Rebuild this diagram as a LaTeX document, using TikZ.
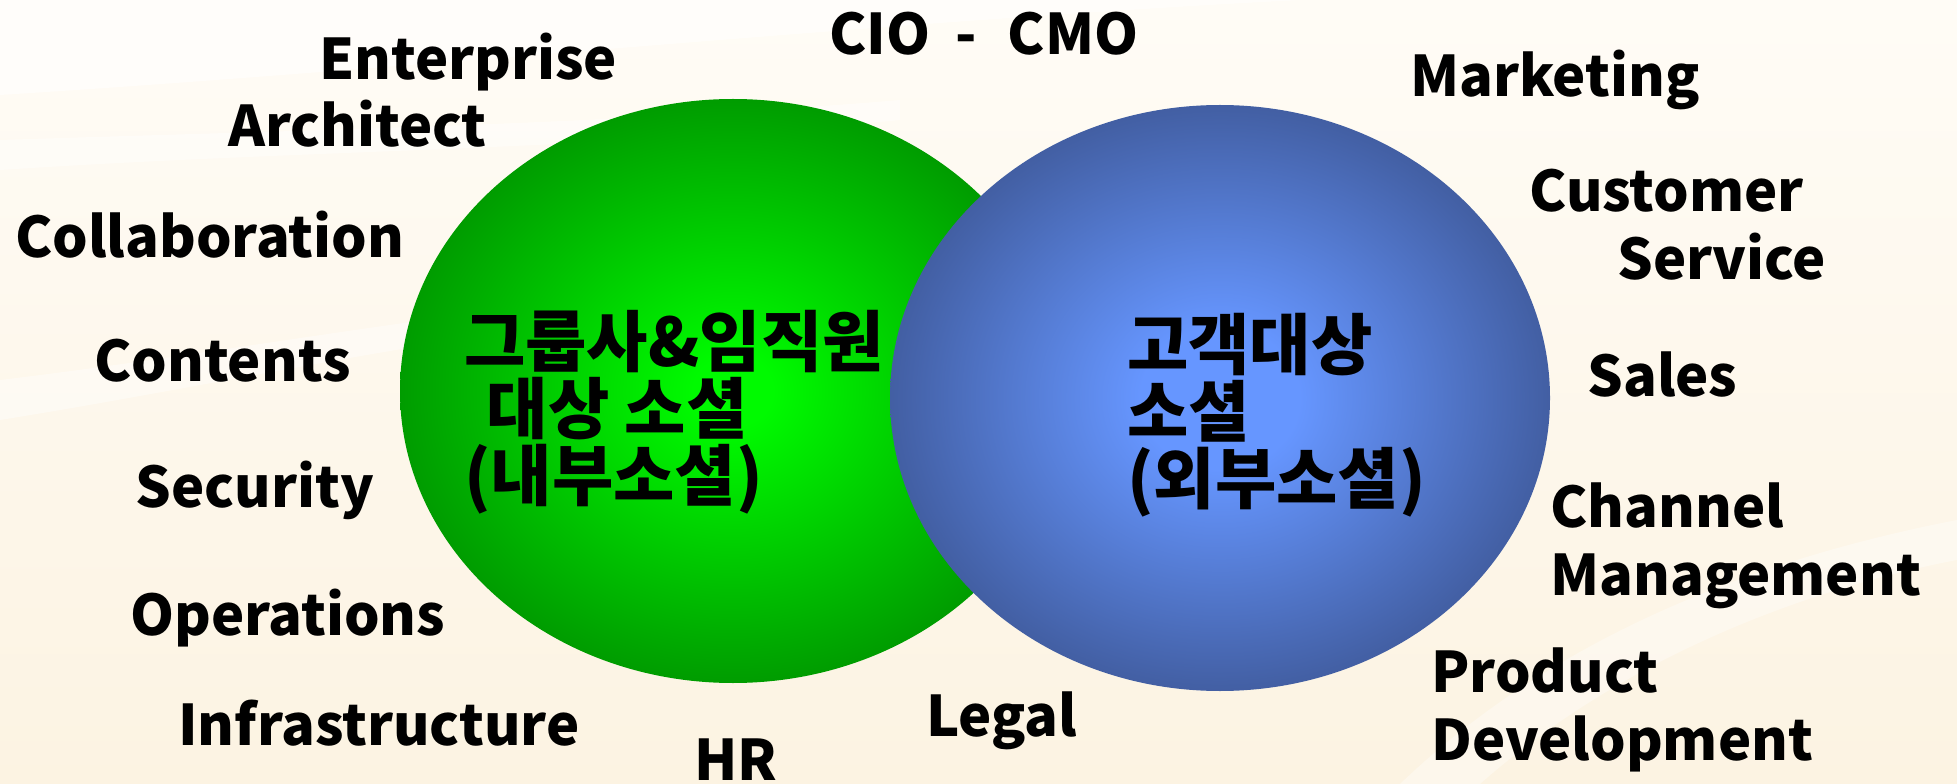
\documentclass[tikz,border=0pt]{standalone}
\usepackage{fontspec}
\setmainfont{Noto Sans CJK KR}

\definecolor{bgcream}{RGB}{252,243,226}
\definecolor{ingreen}{RGB}{0,250,0}
\definecolor{outgreen}{RGB}{0,122,0}
\definecolor{inblue}{RGB}{102,150,255}
\definecolor{outblue}{RGB}{42,57,100}

\pgfdeclareradialshading{greenball}{\pgfpoint{0bp}{0bp}}{color(0bp)=(ingreen); color(3bp)=(ingreen); color(33bp)=(outgreen); color(50bp)=(outgreen)}
\pgfdeclareradialshading{blueball}{\pgfpoint{0bp}{0bp}}{color(0bp)=(inblue); color(6bp)=(inblue); color(38bp)=(outblue); color(50bp)=(outblue)}

\begin{document}
\begin{tikzpicture}[x=0.75pt,y=0.75pt,yscale=-1,xscale=1,
  role/.style={font=\fontsize{42}{51}\selectfont\bfseries, inner sep=0pt, anchor=base west, align=left},
  social/.style={font=\fontsize{50}{50}\selectfont\bfseries, inner sep=0pt, anchor=base west, align=left}]
\useasboundingbox (0,0) rectangle (1957,784);

%Background
\shade [top color={rgb, 255:red, 255; green, 252; blue, 246 }, bottom color=bgcream] (0,0) rectangle (1957,784);
%Curve Lines: light streaks
\fill [white, fill opacity=0.55] (0,95) .. controls (400,70) and (900,20) .. (1300,0) -- (0,0) -- cycle ;
\fill [white, fill opacity=0.45] (0,170) .. controls (300,150) and (600,150) .. (900,120) -- (900,100) .. controls (600,125) and (300,130) .. (0,140) -- cycle ;
\fill [white, fill opacity=0.4] (0,420) .. controls (250,380) and (500,320) .. (800,300) -- (800,280) .. controls (500,300) and (250,350) .. (0,380) -- cycle ;
\fill [white, fill opacity=0.35] (1957,520) .. controls (1750,560) and (1550,640) .. (1400,784) -- (1480,784) .. controls (1620,660) and (1800,590) .. (1957,560) -- cycle ;

%Shape: Ellipse (inner social)
\shade [shading=greenball] (733,391) ellipse (333 and 292) ;
%Shape: Ellipse (outer social)
\shade [shading=blueball] (1220,398) ellipse (330 and 293) ;

%Text in the ellipses (base = last line)
\node [social] (inner) at (464,500) {그룹사\&임직원\\\hspace*{17pt}대상 소셜\\(내부소셜)};
\node [social] (outer) at (1127,503) {고객대상\\소셜\\(외부소셜)};

%Text on the left
\node [role] (cio) at (829,55) {CIO\hspace{19pt}-\hspace{23pt}CMO};
\node [role] (enterprise) at (319,80) {Enterprise};
\node [role] (architect) at (228,147) {Architect};
\node [role] (collab) at (15,258) {Collaboration};
\node [role] (contents) at (94,382) {Contents};
\node [role] (security) at (135,507) {Security};
\node [role] (operations) at (130,635) {Operations};
\node [role] (infra) at (178,745) {Infrastructure};
\node [role] (hr) at (694,780) {HR};
\node [role] (legal) at (926,736) {Legal};

%Text on the right
\node [role] (marketing) at (1410,97) {Marketing};
\node [role] (customer) at (1529,212) {Customer};
\node [role] (service) at (1617,280) {Service};
\node [role] (sales) at (1587,397) {Sales};
\node [role] (channel) at (1550,595) {Channel\\Management};
\node [role] (product) at (1431,760) {Product\\Development};

\end{tikzpicture}
\end{document}
